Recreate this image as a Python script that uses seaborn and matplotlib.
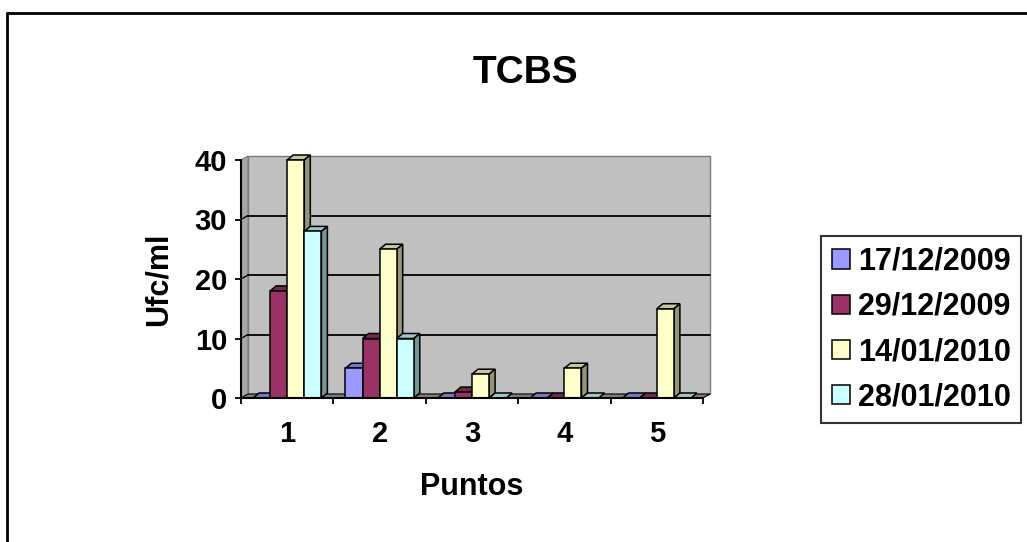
import numpy as np
import pandas as pd
import matplotlib
matplotlib.use("Agg")
import matplotlib.pyplot as plt
import matplotlib.colors as mcolors
from matplotlib.patches import Polygon, Patch
from matplotlib.lines import Line2D
import seaborn as sns

# Data: colony counts (Ufc/ml) on TCBS per sampling point and date
puntos = ["1", "2", "3", "4", "5"]
fechas = ["17/12/2009", "29/12/2009", "14/01/2010", "28/01/2010"]
ufc_17dic2009 = [0, 5, 0, 0, 0]
ufc_29dic2009 = [18, 10, 1, 0, 0]
ufc_14ene2010 = [40, 25, 4, 5, 15]
ufc_28ene2010 = [28, 10, 0, 0, 0]
colores = ["#9999FF", "#993366", "#FFFFCC", "#CCFFFF"]
y_ticks = [0, 10, 20, 30, 40]

sns.set_style("white")
plt.rcParams["font.family"] = ["Liberation Sans", "DejaVu Sans"]
plt.rcParams["font.weight"] = "bold"
for key in ["text.color", "axes.labelcolor", "xtick.color", "ytick.color"]:
    plt.rcParams[key] = "black"

df = pd.DataFrame({
    "Puntos": puntos * 4,
    "Fecha": np.repeat(fechas, len(puntos)),
    "Ufc/ml": ufc_17dic2009 + ufc_29dic2009 + ufc_14ene2010 + ufc_28ene2010,
})

W, H = 1027, 542
fig = plt.figure(figsize=(W / 100, H / 100), dpi=100)
ax_px_w, ax_px_h = 462, 238
ax = fig.add_axes([241 / W, 144 / H, ax_px_w / W, ax_px_h / H])
ax.set_facecolor("none")

sns.barplot(data=df, x="Puntos", y="Ufc/ml", hue="Fecha", hue_order=fechas,
            palette=colores, width=0.74, edgecolor="black", linewidth=1.1,
            saturation=1, errorbar=None, legend=False, ax=ax)

ax.set_xlim(-0.5, 4.5)
ax.set_ylim(0, 40)

# pixel -> data conversion for the pseudo-3D depth offsets
ux = (4.5 - -0.5) / ax_px_w
uy = 40 / ax_px_h
bdx, bdy = 6 * ux, 5 * uy      # bar depth
wdx, wdy = 7 * ux, 4 * uy      # wall depth


def shade(c, f):
    r, g, b = mcolors.to_rgb(c)
    return (r * f, g * f, b * f)


# back wall, left wall and floor
ax.add_patch(Polygon([(-0.5 + wdx, wdy), (4.5 + wdx, wdy), (4.5 + wdx, 40 + wdy),
                      (-0.5 + wdx, 40 + wdy)], closed=True, fc="#C0C0C0",
                     ec="#7a7a7a", lw=1.0, zorder=0.5, clip_on=False))
ax.add_patch(Polygon([(-0.5, 0), (-0.5, 40), (-0.5 + wdx, 40 + wdy), (-0.5 + wdx, wdy)],
                     closed=True, fc="#A6A6A6", ec="#7a7a7a", lw=0.8, zorder=0.55,
                     clip_on=False))
ax.add_patch(Polygon([(-0.5, 0), (4.5, 0), (4.5 + wdx, wdy), (-0.5 + wdx, wdy)],
                     closed=True, fc="#808080", ec="black", lw=0.8, zorder=0.6,
                     clip_on=False))
for v in y_ticks[1:-1]:
    ax.plot([-0.5 + wdx, 4.5 + wdx], [v + wdy, v + wdy], color="black", lw=1.3,
            zorder=0.7, clip_on=False)
    ax.plot([-0.5, -0.5 + wdx], [v, v + wdy], color="black", lw=1.0,
            zorder=0.7, clip_on=False)

# pseudo-3D faces for every bar
n_hue = len(fechas)
for hi, (cont, col) in enumerate(zip(ax.containers, colores)):
    for ci, rect in enumerate(cont):
        x0, w, h = rect.get_x(), rect.get_width(), rect.get_height()
        z = 2 + (ci * n_hue + hi) * 0.01
        rect.set_zorder(z + 0.005)
        rect.set_clip_on(False)
        top = Polygon([(x0, h), (x0 + w, h), (x0 + w + bdx, h + bdy), (x0 + bdx, h + bdy)],
                      closed=True, fc=shade(col, 0.78), ec="black", lw=1.1,
                      zorder=z, clip_on=False)
        ax.add_patch(top)
        if h > 0:
            side = Polygon([(x0 + w, 0), (x0 + w + bdx, bdy), (x0 + w + bdx, h + bdy),
                            (x0 + w, h)], closed=True, fc=shade(col, 0.58),
                           ec="black", lw=1.1, zorder=z, clip_on=False)
            ax.add_patch(side)

# axes, ticks and labels
for s in ["top", "right"]:
    ax.spines[s].set_visible(False)
for s in ["left", "bottom"]:
    ax.spines[s].set_color("black")
    ax.spines[s].set_linewidth(1.5)
    ax.spines[s].set_zorder(5)

ax.set_yticks(y_ticks)
ax.set_yticklabels([str(v) for v in y_ticks])
ax.tick_params(axis="y", direction="out", length=4, width=1.3, pad=6,
               labelsize=21, colors="black", left=True)
ax.set_xticks(range(len(puntos)))
ax.set_xticklabels(puntos)
ax.tick_params(axis="x", which="major", length=0, pad=15.5, labelsize=21,
               colors="black")
ax.set_xticks(np.arange(-0.5, len(puntos), 1.0), minor=True)
ax.tick_params(axis="x", which="minor", direction="out", length=4, width=1.3,
               colors="black", bottom=True)
for lab in ax.get_xticklabels() + ax.get_yticklabels():
    lab.set_fontweight("bold")

ax.set_ylabel("Ufc/ml", fontsize=22, fontweight="bold", color="black")
ax.yaxis.set_label_coords(-0.145, 0.5)
ax.set_xlabel("Puntos", fontsize=22, fontweight="bold", color="black")
ax.xaxis.set_label_coords(0.5, -0.31)

fig.text(525 / W, 1 - 83 / H, "TCBS", ha="center", va="baseline",
         fontsize=28, fontweight="bold", color="black")

handles = [Patch(fc=c, ec="black", lw=1.1) for c in colores]
leg = fig.legend(handles, fechas, loc="upper left",
                 bbox_to_anchor=(821 / W, 1 - 236 / H),
                 prop={"size": 22, "weight": "bold"}, frameon=True, fancybox=False,
                 edgecolor="black", handlelength=0.6, handleheight=0.6,
                 handletextpad=0.25, labelspacing=0.5, borderpad=0.35,
                 borderaxespad=0, labelcolor="black")
leg.get_frame().set_linewidth(1.5)

# chart-area border
fig.add_artist(Line2D([7 / W, 7 / W], [0, 1 - 13 / H], transform=fig.transFigure,
                      color="black", lw=2))
fig.add_artist(Line2D([7 / W, 1], [1 - 13 / H, 1 - 13 / H], transform=fig.transFigure,
                      color="black", lw=2))

fig.savefig("out.png", dpi=100)
